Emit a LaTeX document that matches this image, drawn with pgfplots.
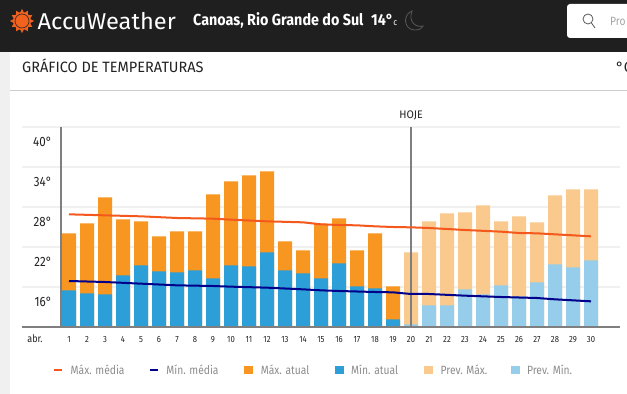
\documentclass[border=0pt]{standalone}
\usepackage{fontspec}
\setmainfont[FakeStretch=0.86]{Fira Sans}
\newfontfamily\titlefont[FakeStretch=0.97]{Fira Sans}
\newfontfamily\cityfont[FakeStretch=0.9]{Fira Sans}
\newfontfamily\logofont[FakeStretch=1.03]{Fira Sans}
\usepackage{pgfplots}
\pgfplotsset{compat=1.18}
\definecolor{hdr}{HTML}{1F1F1F}
\definecolor{maxa}{HTML}{F79621}
\definecolor{mina}{HTML}{2C9FD8}
\definecolor{maxp}{HTML}{F9C98D}
\definecolor{minp}{HTML}{95CDEA}
\definecolor{lmax}{HTML}{F4581C}
\definecolor{lmin}{HTML}{00008B}
\definecolor{gridc}{HTML}{F0F0F0}
\definecolor{axg}{HTML}{7F7F7F}
\definecolor{sun}{HTML}{F0621E}
\definecolor{txt}{HTML}{222222}
\definecolor{leg}{HTML}{8C8C8C}
\begin{document}
\begin{tikzpicture}
\path[use as bounding box] (0,0) rectangle (627bp,394bp);
\begin{scope}[x=1bp,y=-1bp,shift={(0,394bp)}]
\fill[white] (0,0) rectangle (627,394);
\fill[hdr] (0,0) rectangle (627,52);
\fill[gridc] (0,52) rectangle (10,394);
\draw[gridc!85!black,line width=0.8bp] (10,90) -- (627,90);
% logo
\foreach \a in {0,30,...,330}{\fill[sun,shift={(22,21)},rotate=\a] (-2.6,-7) -- (0,-12) -- (2.6,-7) -- cycle;}
\fill[sun] (22,21) circle (9);
\draw[hdr!80!sun,line width=0.7bp] (22,21) circle (7);
\node[anchor=base west,inner sep=0,text=white,font=\fontsize{23}{25}\logofont] at (37.5,29.5) {AccuWeather};
\node[anchor=base west,inner sep=0,text=white,font=\fontsize{16}{18}\cityfont\bfseries] at (193,26) {Canoas, Rio Grande do Sul};
\node[anchor=base west,inner sep=0,text=white,font=\fontsize{16}{18}\cityfont\bfseries] at (371,26) {14°{\fontsize{9}{10}\selectfont\mdseries c}};
\draw[hdr!75!white,line width=0.8bp] (412,11) .. controls (402,15) and (404,30) .. (415,30) .. controls (419,30) and (421,29) .. (423,26) .. controls (416,28) and (408,22) .. (412,11) -- cycle;
\fill[white,rounded corners=3] (567,4) rectangle (640,38);
\draw[gray!70!black,line width=0.8bp] (588,19) circle (5) (591.5,23) -- (595,28);
\node[anchor=base west,inner sep=0,text=gray!70,font=\fontsize{12}{14}\selectfont] at (610,26) {Pro};
\node[anchor=base west,inner sep=0,text=txt,font=\fontsize{15}{17}\titlefont] at (22,72.5) {GRÁFICO DE TEMPERATURAS};
\node[anchor=base west,inner sep=0,text=txt,font=\fontsize{15}{17}\titlefont] at (616,72.5) {°C};
\node[anchor=center,inner sep=0,text=txt,font=\fontsize{11}{12}\titlefont] at (411,115) {HOJE};
\node[anchor=center,inner sep=0,text=txt,font=\fontsize{10.5}{12}\selectfont] at (35,339) {abr.};
\end{scope}
\begin{axis}[
  at={(22bp,67bp)},anchor=south west,
  scale only axis,width=598bp,height=200bp,
  xmin=-1.6111,xmax=31.6111,ymin=10,ymax=40,
  axis line style={draw=none},
  tick style={draw=none},
  clip=false,
  ymajorgrids,grid style={gridc,line width=1.5bp},
  ytick={16,22,28,34,40},
  yticklabels={16°,22°,28°,34°,40°},
  yticklabel style={anchor=east,inner sep=0,xshift=30bp,yshift=-15bp,text=txt,font=\fontsize{13.5}{15}\selectfont},
  xtick={1,2,...,30},
  xticklabels={1,2,3,4,5,6,7,8,9,10,11,12,13,14,15,16,17,18,19,20,21,22,23,24,25,26,27,28,29,30},
  xticklabel style={anchor=center,inner sep=0,yshift=-8bp,text=txt,font=\fontsize{9}{10}\selectfont},
  ybar,bar width=14bp,bar shift=0pt,
  legend columns=6,
  legend style={at={(0.0519,-0.215)},anchor=west,draw=none,fill=none,inner sep=0pt,outer sep=0pt,
    nodes={inner sep=0pt,text=leg,font=\fontsize{12}{14}\selectfont},
    /tikz/every even column/.append style={column sep=0pt},
    /tikz/every odd column/.append style={column sep=8bp}},
]
\addlegendimage{legend image code/.code={\draw[lmax,line width=1.7bp] (0bp,0bp) -- (8bp,0bp);}}
\addlegendentry{\makebox[78bp][l]{Máx. média}}
\addlegendimage{legend image code/.code={\draw[lmin,line width=1.7bp] (0bp,0bp) -- (8bp,0bp);}}
\addlegendentry{\makebox[78bp][l]{Mín. média}}
\addlegendimage{legend image code/.code={\fill[maxa] (0bp,-3.5bp) rectangle (8bp,3.5bp);}}
\addlegendentry{\makebox[74bp][l]{Máx. atual}}
\addlegendimage{legend image code/.code={\fill[mina] (0bp,-3.5bp) rectangle (8bp,3.5bp);}}
\addlegendentry{\makebox[73bp][l]{Mín. atual}}
\addlegendimage{legend image code/.code={\fill[maxp] (0bp,-3.5bp) rectangle (8bp,3.5bp);}}
\addlegendentry{\makebox[70bp][l]{Prev. Máx.}}
\addlegendimage{legend image code/.code={\fill[minp] (0bp,-3.5bp) rectangle (8bp,3.5bp);}}
\addlegendentry{Prev. Mín.}
% Máx. atual
\addplot[fill=maxa,draw=none,forget plot] coordinates {(1,24.05)(2,25.55)(3,29.45)(4,26.15)(5,25.85)(6,23.6)(7,24.35)(8,24.35)(9,29.9)(10,31.85)(11,32.75)(12,33.35)(13,22.85)(14,21.5)(15,25.5)(16,26.3)(17,21.5)(18,24.05)(19,16.1)};
% Prev. Máx.
\addplot[fill=maxp,draw=none,forget plot] coordinates {(20,21.2)(21,25.85)(22,27.05)(23,27.2)(24,28.25)(25,25.85)(26,26.6)(27,25.7)(28,29.75)(29,30.65)(30,30.65)};
% Mín. atual
\addplot[fill=mina,draw=none,forget plot] coordinates {(1,15.5)(2,15.05)(3,14.9)(4,17.75)(5,19.25)(6,18.35)(7,18.2)(8,18.5)(9,17.3)(10,19.25)(11,19.1)(12,21.2)(13,18.5)(14,18.05)(15,17.3)(16,19.55)(17,16.1)(18,15.8)(19,11.15)};
% Prev. Mín.
\addplot[fill=minp,draw=none,forget plot] coordinates {(20,10.4)(21,13.25)(22,13.25)(23,15.65)(24,14.9)(25,16.25)(26,14.6)(27,16.7)(28,19.4)(29,18.95)(30,20)};
% axes lines
\addplot[sharp plot,axg,line width=2bp,forget plot] coordinates {(0.556,10)(0.556,40)};
\addplot[sharp plot,axg,line width=2bp,forget plot] coordinates {(20,10)(20,40)};
\addplot[sharp plot,axg,line width=2bp,forget plot] coordinates {(-1.6111,10)(31.6111,10)};
% Máx. média
\addplot[sharp plot,lmax,line width=2bp,forget plot] coordinates {(1,26.9)(3,26.75)(5,26.6)(7,26.35)(9,26.25)(10,26.1)(12,25.85)(14,25.7)(15,25.4)(16,25.3)(17,25.25)(18,25.1)(19,25.0)(20,24.95)(21,24.85)(23,24.55)(25,24.3)(26,24.1)(27,24.05)(28,23.9)(29,23.75)(30,23.6)};
% Mín. média
\addplot[sharp plot,lmin,line width=2bp,forget plot] coordinates {(1,16.9)(3,16.75)(5,16.5)(7,16.25)(9,16.15)(10,16.05)(12,15.9)(14,15.65)(15,15.5)(16,15.4)(18,15.25)(19,15.2)(20,14.95)(21,14.95)(23,14.7)(25,14.5)(27,14.35)(28,14.15)(29,14.0)(30,13.85)};
\end{axis}
\end{tikzpicture}
\end{document}
